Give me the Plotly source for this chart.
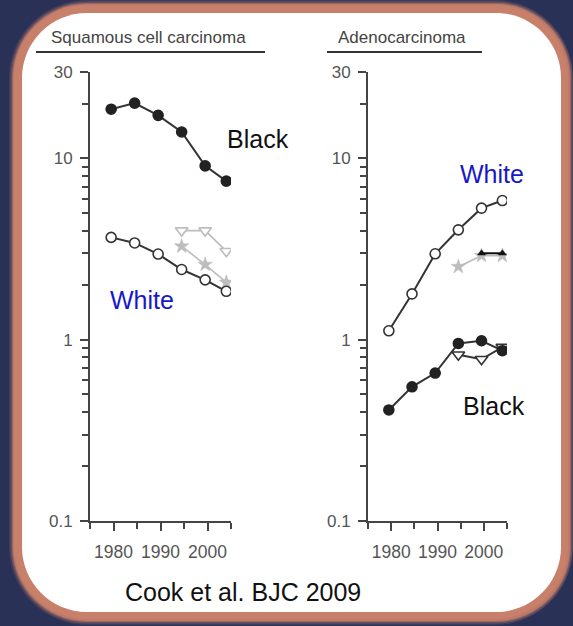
import math
import plotly.graph_objects as go

# ---- data -------------------------------------------------------------
years = [1979.5, 1984.5, 1989.5, 1994.5, 1999.5, 2004]
late_years = [1994.5, 1999.5, 2004]
last_years = [1999.5, 2004]

# Squamous cell carcinoma (rate per 100,000)
sq_black = [18.7, 20.2, 17.3, 14.0, 9.1, 7.5]
sq_white = [3.67, 3.42, 2.97, 2.44, 2.14, 1.85]
sq_grey_tri = [4.0, 4.0, 3.08]
sq_grey_star = [3.28, 2.60, 2.07]

# Adenocarcinoma
ad_white = [1.12, 1.79, 2.98, 4.04, 5.32, 5.86]
ad_black = [0.41, 0.55, 0.655, 0.954, 0.987, 0.87]
ad_black_tri = [0.826, 0.78, 0.91]
ad_grey_star = [2.53, 2.91, 2.91]
ad_white_tri = [3.0, 3.0]

y_major = [0.1, 1, 10, 30]
y_major_text = ["0.1", "1", "10", "30"]
y_minor = [0.2, 0.3, 0.4, 0.5, 0.6, 0.7, 0.8, 0.9,
           2, 3, 4, 5, 6, 7, 8, 9, 20]
x_major = [1980, 1990, 2000]
x_minor = [1975, 1985, 1995, 2005]

# ---- page geometry ------------------------------------------------------
W, H = 573, 626
FONT = "Liberation Sans, Arial, sans-serif"
NAVY = "#2a3157"
SALMON = "#c8806b"
AXIS = "#444444"
LINE = "#333333"
GREY = "#bdbdbd"
BLUE = "#1818c8"


def fx(x):
    return x / W


def fy(y):
    return 1 - y / H


def rounded_rect(x0, y0, x1, y1, r):
    k = 0.5523 * r
    pts = [
        ("M", [(x0 + r, y0)]),
        ("L", [(x1 - r, y0)]),
        ("C", [(x1 - r + k, y0), (x1, y0 + r - k), (x1, y0 + r)]),
        ("L", [(x1, y1 - r)]),
        ("C", [(x1, y1 - r + k), (x1 - r + k, y1), (x1 - r, y1)]),
        ("L", [(x0 + r, y1)]),
        ("C", [(x0 + r - k, y1), (x0, y1 - r + k), (x0, y1 - r)]),
        ("L", [(x0, y0 + r)]),
        ("C", [(x0, y0 + r - k), (x0 + r - k, y0), (x0 + r, y0)]),
    ]
    s = ""
    for cmd, ps in pts:
        s += cmd + " " + " ".join(f"{fx(px):.5f},{fy(py):.5f}" for px, py in ps) + " "
    return s + "Z"


shapes = []
card = (22, 13, 561, 612, 65)
for grow, op in [(13, 0.15), (11.5, 0.3), (10, 0.5), (9, 0.75)]:
    shapes.append(dict(type="path", xref="paper", yref="paper", layer="below",
                       path=rounded_rect(card[0] - grow, max(card[1] - grow, 0),
                                         min(card[2] + grow, W), min(card[3] + grow, H),
                                         card[4] + grow),
                       fillcolor=SALMON, opacity=op, line=dict(width=0)))
shapes.append(dict(type="path", xref="paper", yref="paper", layer="below",
                   path=rounded_rect(card[0] - 8, card[1] - 8, card[2] + 7, card[3] + 7, card[4] + 8),
                   fillcolor=SALMON, line=dict(width=0)))
shapes.append(dict(type="path", xref="paper", yref="paper", layer="below",
                   path=rounded_rect(*card), fillcolor="white", line=dict(width=0)))

# panel title underlines
for xa, xb in [(36, 265), (327, 482)]:
    shapes.append(dict(type="line", xref="paper", yref="paper",
                       x0=fx(xa), x1=fx(xb), y0=fy(52), y1=fy(52),
                       line=dict(color=LINE, width=2)))

fig = go.Figure()


def series(x, y, xa, ya, symbol, size, fill, edge, line_color, lw=2, mlw=1.6):
    fig.add_trace(go.Scatter(
        x=x, y=y, xaxis=xa, yaxis=ya, mode="lines+markers",
        line=dict(color=line_color, width=lw),
        marker=dict(symbol=symbol, size=size, color=fill,
                    line=dict(color=edge, width=mlw)),
        hoverinfo="x+y", showlegend=False))


# Squamous cell carcinoma panel
series(late_years, sq_grey_tri, "x", "y", "triangle-down", 11, "white", GREY, GREY, 1.6)
series(late_years, sq_grey_star, "x", "y", "star", 11, GREY, GREY, GREY, 1.6, 0.5)
series(years, sq_black, "x", "y", "circle", 10, "#222222", "#222222", LINE)
series(years, sq_white, "x", "y", "circle", 10, "white", LINE, LINE)

# Adenocarcinoma panel
series(late_years, ad_grey_star, "x2", "y2", "star", 11, GREY, GREY, GREY, 1.6, 0.5)
series(last_years, ad_white_tri, "x2", "y2", "triangle-up", 7, "#111111", "#111111", "#111111", 2, 0.5)
series(years, ad_white, "x2", "y2", "circle", 10, "white", LINE, LINE)
series(late_years, ad_black_tri, "x2", "y2", "triangle-down", 11, "white", LINE, LINE)
series(years, ad_black, "x2", "y2", "circle", 10, "#222222", "#222222", LINE)


def xaxis_cfg(x0, x1, anchor):
    return dict(domain=[fx(x0), fx(x1)], range=[1975, 2005], anchor=anchor,
                automargin=False,
                tickvals=x_major, ticks="outside", ticklen=8, tickwidth=2,
                tickcolor=AXIS, showline=True, linecolor=AXIS, linewidth=2,
                showgrid=False, zeroline=False, ticklabelstandoff=6,
                tickfont=dict(family=FONT, size=17.5, color="#555555"),
                minor=dict(tickvals=x_minor, ticks="outside", ticklen=6,
                           tickwidth=2, tickcolor=AXIS, showgrid=False))


def yaxis_cfg(anchor):
    return dict(type="log", domain=[fy(521), fy(72)],
                range=[-1, math.log10(30)], anchor=anchor, automargin=False,
                tickvals=y_major, ticktext=y_major_text, ticks="outside",
                ticklen=8, tickwidth=2, tickcolor=AXIS, showline=True,
                linecolor=AXIS, linewidth=2, showgrid=False, zeroline=False,
                ticklabelstandoff=4,
                tickfont=dict(family=FONT, size=17, color="#555555"),
                minor=dict(tickvals=y_minor, ticks="outside", ticklen=6,
                           tickwidth=2, tickcolor=AXIS, showgrid=False))


def label(text, x, y, size, color):
    return dict(text=text, x=fx(x), y=fy(y), xref="paper", yref="paper",
                xanchor="center", yanchor="middle", showarrow=False,
                font=dict(family=FONT, size=size, color=color))


annotations = [
    label("Squamous cell carcinoma", 148, 37, 17, "#444444"),
    label("Adenocarcinoma", 402, 37, 17, "#444444"),
    label("Black", 258, 139, 25, "#111111"),
    label("White", 142, 300, 25, BLUE),
    label("White", 492, 174, 25, BLUE),
    label("Black", 494, 406, 25, "#111111"),
    label("Cook et al. BJC 2009", 243, 592, 25, "#111111"),
]

fig.update_layout(
    width=W, height=H, margin=dict(l=0, r=0, t=0, b=0, pad=0),
    autosize=False,
    paper_bgcolor=NAVY, plot_bgcolor="rgba(0,0,0,0)",
    showlegend=False, shapes=shapes, annotations=annotations,
    xaxis=xaxis_cfg(90, 231, "y"), yaxis=yaxis_cfg("x"),
    xaxis2=xaxis_cfg(368, 507, "y2"), yaxis2=yaxis_cfg("x2"),
)

fig.write_html("out.html")
